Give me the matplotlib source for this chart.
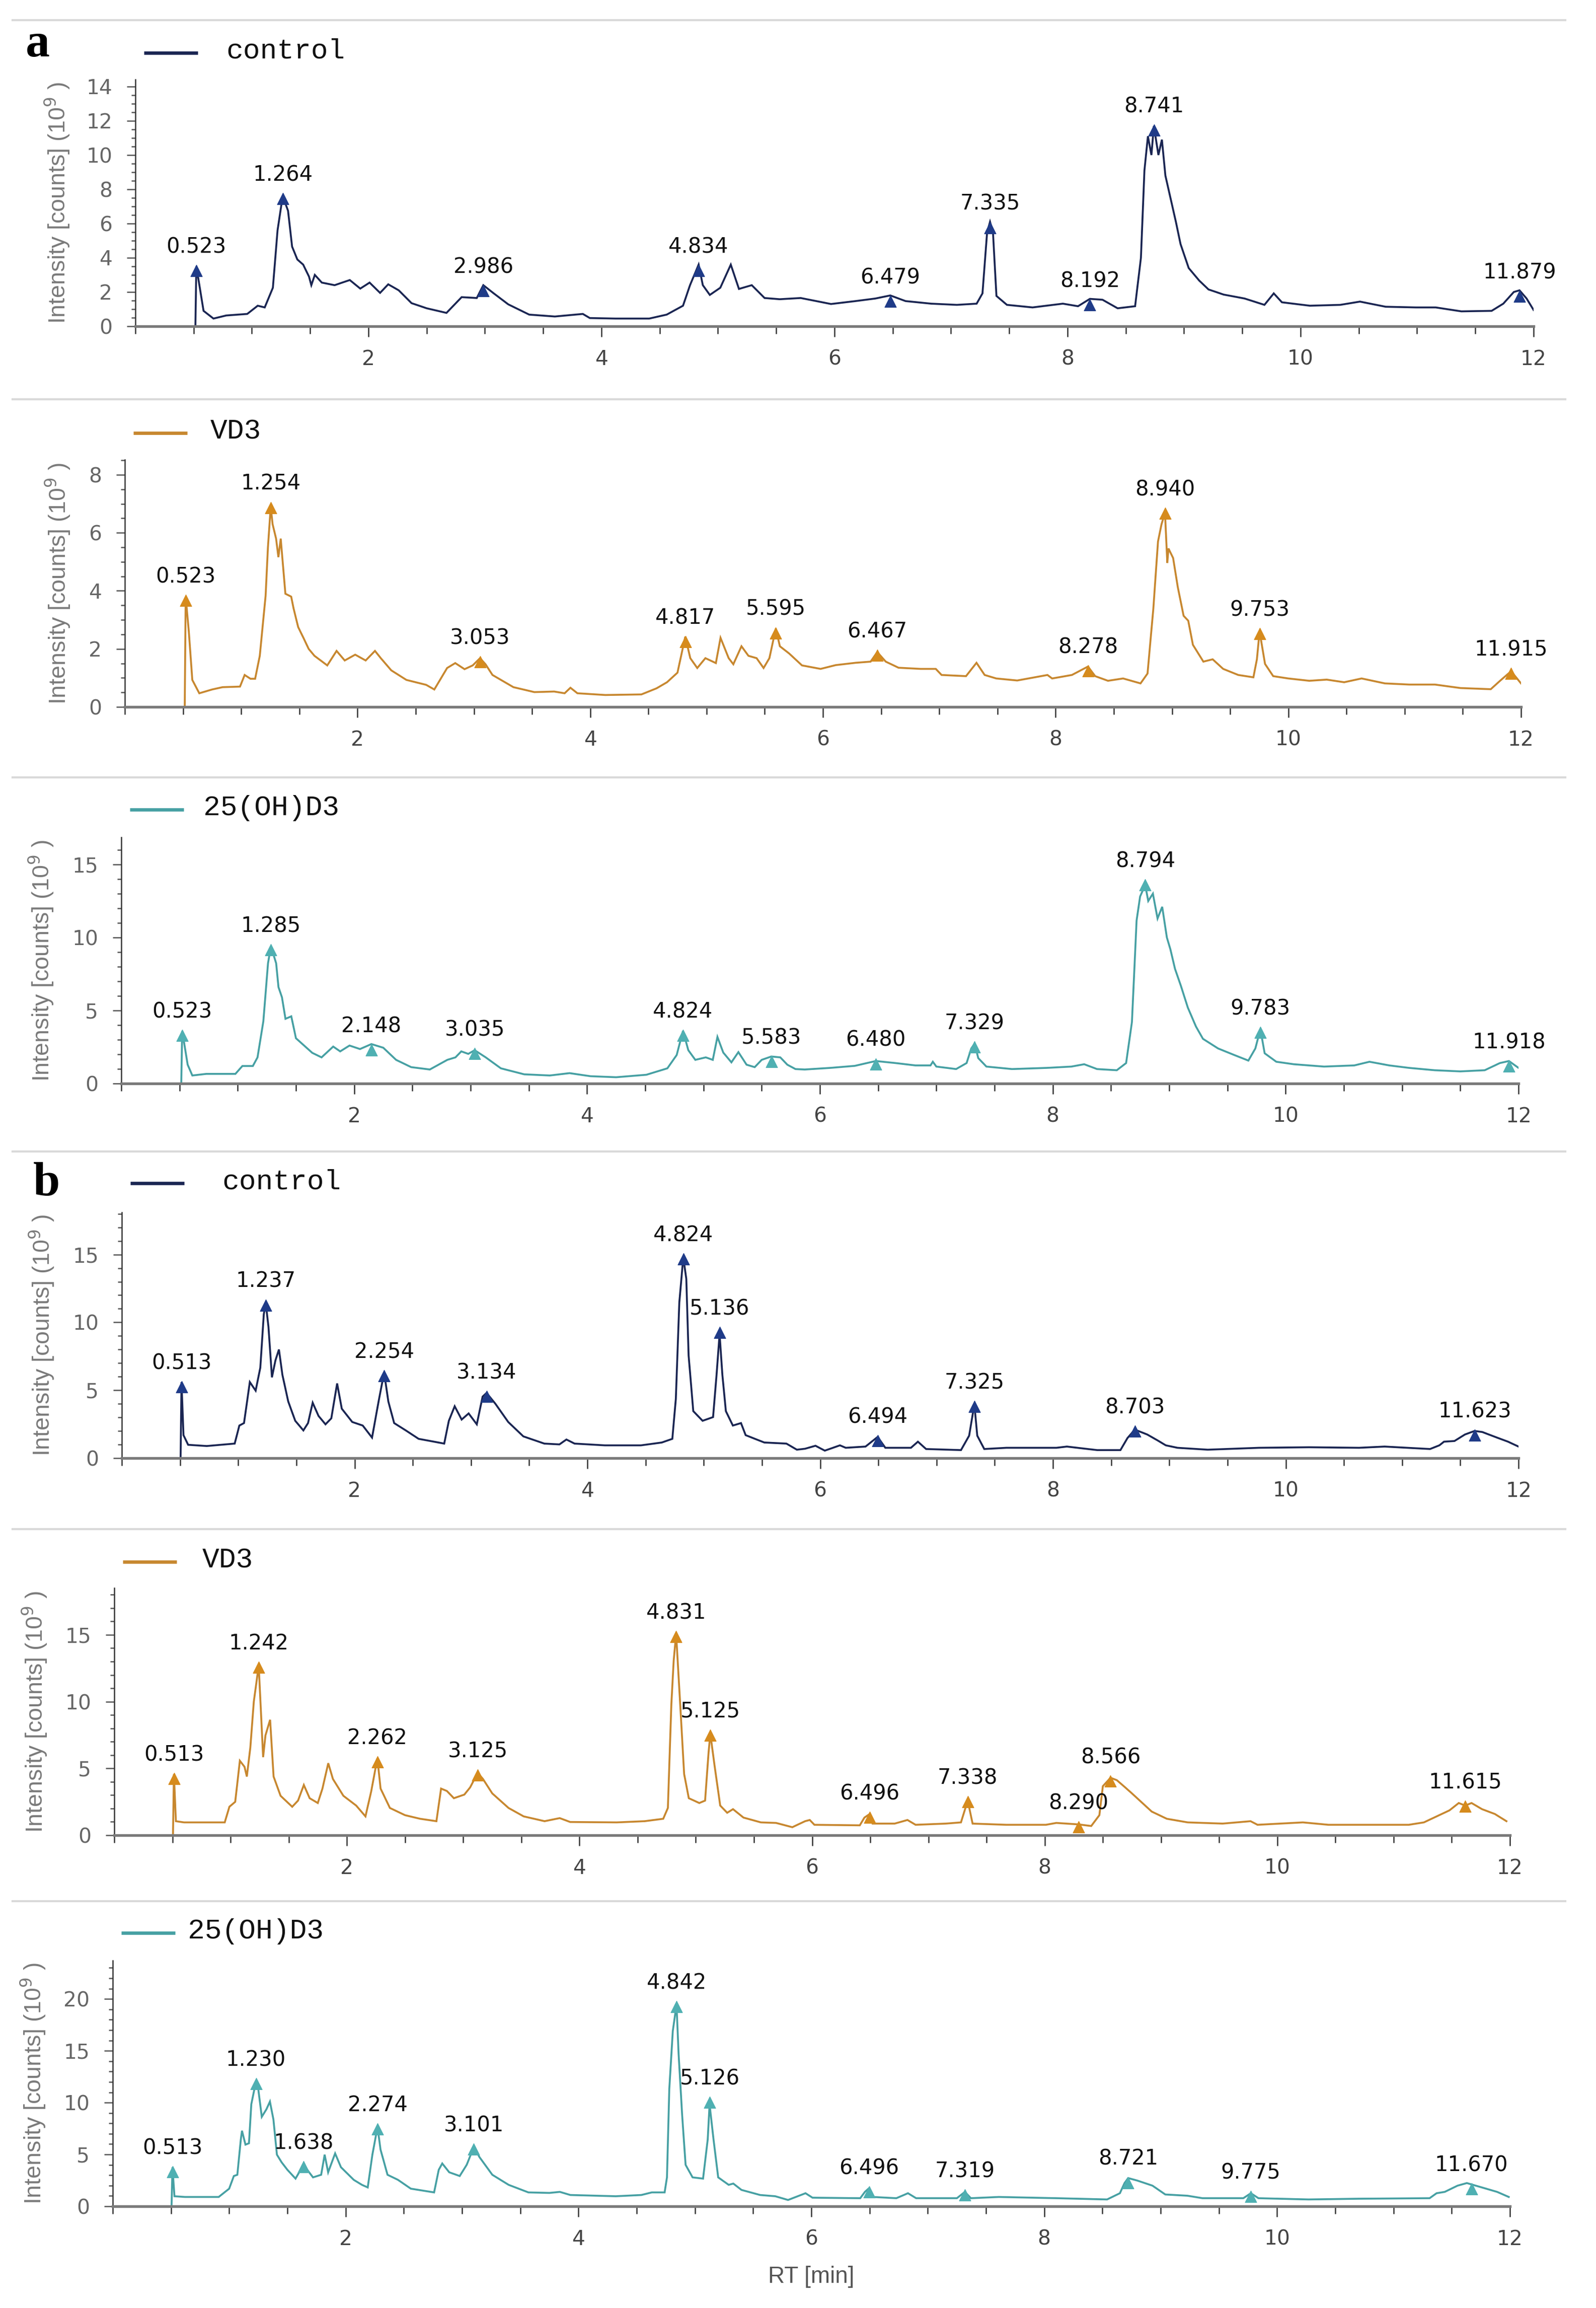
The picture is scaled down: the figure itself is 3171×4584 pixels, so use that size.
import matplotlib
matplotlib.use('Agg')
import matplotlib.pyplot as plt
from matplotlib.lines import Line2D
from matplotlib.path import Path
from matplotlib.ticker import FixedLocator, MultipleLocator

plt.rcParams['font.family'] = ['DejaVu Sans']

###################################
# Chromatogram traces (RT in min, intensity in 10^9 counts)

# a / control
a_ctrl_rt = [0.515, 0.523, 0.585, 0.67, 0.78, 0.96, 1.05, 1.11, 1.18, 1.22,
             1.264, 1.31, 1.345, 1.39, 1.44, 1.49, 1.51, 1.54, 1.60, 1.71,
             1.84, 1.93, 2.01, 2.10, 2.17, 2.26, 2.37, 2.50, 2.67, 2.80,
             2.93, 2.986, 3.07, 3.20, 3.38, 3.60, 3.84, 3.90, 4.12, 4.41,
             4.56, 4.70, 4.76, 4.834, 4.87, 4.93, 5.02, 5.11, 5.18, 5.29,
             5.40, 5.53, 5.71, 5.97, 6.18, 6.35, 6.479, 6.61, 6.83, 7.05,
             7.22, 7.27, 7.31, 7.335, 7.36, 7.39, 7.48, 7.70, 7.96, 8.09,
             8.192, 8.30, 8.43, 8.58, 8.63, 8.66, 8.69, 8.72, 8.741, 8.78,
             8.81, 8.84, 8.89, 8.93, 8.97, 9.04, 9.13, 9.21, 9.34, 9.52,
             9.69, 9.77, 9.84, 10.08, 10.34, 10.51, 10.73, 10.99, 11.16, 11.38,
             11.64, 11.74, 11.83, 11.879, 11.94, 12.0]
a_ctrl_int = [0.0, 3.5, 0.9, 0.45, 0.63, 0.72, 1.2, 1.1, 2.25, 5.6,
              7.6, 6.75, 4.65, 3.9, 3.6, 2.9, 2.4, 3.0, 2.55, 2.4,
              2.7, 2.2, 2.55, 1.95, 2.45, 2.1, 1.35, 1.05, 0.78, 1.7,
              1.65, 2.4, 1.95, 1.28, 0.68, 0.57, 0.72, 0.48, 0.45, 0.45,
              0.68, 1.2, 2.4, 3.6, 2.4, 1.83, 2.25, 3.6, 2.18, 2.4,
              1.65, 1.58, 1.65, 1.3, 1.47, 1.62, 1.8, 1.47, 1.32, 1.25,
              1.32, 1.92, 5.5, 6.1, 5.5, 1.77, 1.25, 1.1, 1.32, 1.17,
              1.6, 1.55, 1.05, 1.17, 4.0, 9.1, 11.1, 10.0, 11.7, 10.0,
              10.9, 8.8, 7.3, 6.1, 4.8, 3.4, 2.67, 2.15, 1.85, 1.62,
              1.25, 1.92, 1.4, 1.2, 1.25, 1.44, 1.14, 1.1, 1.1, 0.87,
              0.9, 1.32, 2.0, 2.1, 1.62, 0.95]
a_ctrl_peak_rt = [0.523, 1.264, 2.986, 4.834, 6.479, 7.335, 8.192, 8.741, 11.879]
a_ctrl_peak_int = [3.6, 7.8, 2.4, 3.6, 1.8, 6.1, 1.6, 11.8, 2.1]

# a / VD3
a_vd3_rt = [0.515, 0.523, 0.55, 0.58, 0.64, 0.75, 0.84, 0.99, 1.03, 1.08,
            1.12, 1.16, 1.21, 1.23, 1.254, 1.27, 1.30, 1.32, 1.34, 1.38,
            1.43, 1.45, 1.49, 1.54, 1.58, 1.63, 1.74, 1.82, 1.89, 1.98,
            2.07, 2.15, 2.20, 2.29, 2.42, 2.59, 2.66, 2.77, 2.84, 2.92,
            2.99, 3.053, 3.10, 3.16, 3.34, 3.52, 3.69, 3.78, 3.83, 3.89,
            4.13, 4.44, 4.57, 4.66, 4.75, 4.817, 4.86, 4.92, 4.99, 5.08,
            5.12, 5.19, 5.23, 5.30, 5.36, 5.43, 5.49, 5.54, 5.595, 5.63,
            5.71, 5.82, 5.98, 6.11, 6.28, 6.41, 6.467, 6.54, 6.65, 6.84,
            6.97, 7.02, 7.23, 7.32, 7.39, 7.49, 7.67, 7.93, 7.97, 8.14,
            8.278, 8.34, 8.45, 8.58, 8.73, 8.79, 8.84, 8.88, 8.91, 8.94,
            8.96, 8.97, 9.01, 9.05, 9.10, 9.14, 9.18, 9.27, 9.35, 9.44,
            9.57, 9.70, 9.73, 9.753, 9.80, 9.87, 10.0, 10.18, 10.33, 10.48,
            10.63, 10.83, 11.04, 11.26, 11.48, 11.74, 11.82, 11.915, 12.0]
a_vd3_int = [0.0, 3.8, 2.6, 0.93, 0.47, 0.6, 0.68, 0.7, 1.1, 0.97,
             0.97, 1.76, 3.83, 5.5, 6.9, 6.3, 5.8, 5.16, 5.8, 3.9,
             3.8, 3.4, 2.75, 2.34, 2.0, 1.76, 1.43, 1.93, 1.6, 1.8,
             1.6, 1.93, 1.68, 1.26, 0.93, 0.76, 0.6, 1.34, 1.51, 1.3,
             1.43, 1.68, 1.47, 1.1, 0.68, 0.51, 0.53, 0.47, 0.66, 0.47,
             0.41, 0.43, 0.64, 0.85, 1.18, 2.42, 1.68, 1.34, 1.68, 1.51,
             2.38, 1.68, 1.47, 2.09, 1.76, 1.68, 1.34, 1.68, 2.7, 2.09,
             1.84, 1.43, 1.31, 1.44, 1.52, 1.56, 1.89, 1.56, 1.35, 1.31,
             1.31, 1.1, 1.06, 1.52, 1.1, 0.98, 0.91, 1.1, 0.98, 1.1,
             1.39, 1.06, 0.9, 0.98, 0.81, 1.15, 3.39, 5.7, 6.29, 6.7,
             4.96, 5.46, 5.13, 4.13, 3.14, 2.97, 2.14, 1.56, 1.64, 1.31,
             1.1, 1.02, 1.64, 2.6, 1.48, 1.06, 0.98, 0.9, 0.94, 0.85,
             0.98, 0.81, 0.77, 0.77, 0.65, 0.61, 0.9, 1.23, 0.81]
a_vd3_peak_rt = [0.523, 1.254, 3.053, 4.817, 5.595, 6.467, 8.278, 8.940, 9.753, 11.915]
a_vd3_peak_int = [3.87, 7.07, 1.75, 2.45, 2.75, 1.97, 1.44, 6.87, 2.72, 1.35]

# a / 25(OH)D3
a_oh_rt = [0.515, 0.523, 0.57, 0.61, 0.73, 0.98, 1.04, 1.13, 1.17, 1.22,
           1.26, 1.285, 1.33, 1.35, 1.38, 1.41, 1.46, 1.50, 1.57, 1.64,
           1.72, 1.82, 1.88, 1.96, 2.05, 2.148, 2.25, 2.36, 2.49, 2.65,
           2.80, 2.87, 2.92, 2.98, 3.035, 3.13, 3.26, 3.46, 3.68, 3.85,
           4.03, 4.25, 4.51, 4.69, 4.77, 4.824, 4.87, 4.93, 5.02, 5.08,
           5.12, 5.17, 5.24, 5.30, 5.37, 5.44, 5.50, 5.583, 5.66, 5.72,
           5.79, 5.87, 6.09, 6.30, 6.48, 6.65, 6.82, 6.95, 6.97, 7.00,
           7.17, 7.26, 7.30, 7.329, 7.36, 7.43, 7.65, 7.95, 8.16, 8.27,
           8.38, 8.55, 8.63, 8.68, 8.72, 8.75, 8.794, 8.82, 8.86, 8.90,
           8.94, 8.98, 9.01, 9.05, 9.10, 9.16, 9.23, 9.29, 9.42, 9.55,
           9.68, 9.74, 9.783, 9.82, 9.92, 10.07, 10.33, 10.59, 10.72, 10.89,
           11.06, 11.28, 11.50, 11.71, 11.84, 11.918, 12.0]
a_oh_int = [0.0, 3.6, 1.29, 0.55, 0.66, 0.66, 1.2, 1.2, 1.79, 4.26,
            8.23, 9.4, 8.23, 6.6, 5.9, 4.43, 4.6, 3.1, 2.6, 2.1,
            1.79, 2.53, 2.2, 2.6, 2.36, 2.7, 2.45, 1.62, 1.12, 0.96,
            1.62, 1.79, 2.2, 2.03, 2.28, 1.79, 1.04, 0.63, 0.55, 0.71,
            0.5, 0.43, 0.6, 1.04, 1.95, 3.6, 2.28, 1.62, 1.79, 1.62,
            3.19, 2.12, 1.45, 2.15, 1.29, 1.12, 1.62, 1.85, 1.79, 1.29,
            0.99, 0.96, 1.07, 1.21, 1.54, 1.4, 1.24, 1.24, 1.49, 1.16,
            0.99, 1.4, 2.4, 2.73, 1.74, 1.16, 0.99, 1.07, 1.16, 1.32,
            0.99, 0.91, 1.4, 4.21, 11.16, 12.8, 13.6, 12.5, 13.0, 11.3,
            12.1, 10.0, 9.2, 7.85, 6.7, 5.2, 3.9, 3.06, 2.4, 1.98,
            1.57, 2.4, 3.72, 2.07, 1.49, 1.32, 1.16, 1.24, 1.49, 1.24,
            1.07, 0.91, 0.83, 0.91, 1.4, 1.54, 1.07]
a_oh_peak_rt = [0.523, 1.285, 2.148, 3.035, 4.824, 5.583, 6.480, 7.329, 8.794, 9.783, 11.918]
a_oh_peak_int = [3.7, 9.55, 2.7, 2.45, 3.69, 1.9, 1.74, 2.9, 14.0, 3.88, 1.57]

# b / control
b_ctrl_rt = [0.505, 0.513, 0.53, 0.57, 0.73, 0.97, 1.01, 1.05, 1.10, 1.15,
             1.19, 1.22, 1.237, 1.26, 1.29, 1.32, 1.35, 1.38, 1.43, 1.49,
             1.56, 1.60, 1.64, 1.69, 1.75, 1.80, 1.85, 1.89, 1.98, 2.07,
             2.15, 2.21, 2.254, 2.29, 2.34, 2.44, 2.55, 2.77, 2.81, 2.86,
             2.92, 2.98, 3.05, 3.10, 3.134, 3.21, 3.32, 3.45, 3.63, 3.76,
             3.82, 3.89, 4.15, 4.46, 4.64, 4.73, 4.76, 4.79, 4.824, 4.85,
             4.87, 4.91, 4.99, 5.08, 5.11, 5.136, 5.16, 5.19, 5.25, 5.32,
             5.36, 5.52, 5.71, 5.80, 5.87, 5.96, 6.04, 6.17, 6.22, 6.39,
             6.494, 6.56, 6.78, 6.84, 6.91, 7.21, 7.28, 7.325, 7.35, 7.41,
             7.60, 8.03, 8.12, 8.38, 8.58, 8.64, 8.703, 8.81, 8.90, 8.97,
             9.07, 9.33, 9.77, 10.20, 10.63, 10.85, 11.24, 11.32, 11.36, 11.45,
             11.54, 11.623, 11.69, 11.80, 11.91, 12.0]
b_ctrl_int = [0.0, 5.6, 1.69, 0.98, 0.89, 1.07, 2.4, 2.58, 5.6, 4.97,
              6.66, 10.6, 11.4, 9.68, 5.95, 7.2, 8.0, 6.13, 4.17, 2.75,
              2.04, 2.58, 4.08, 3.11, 2.49, 2.93, 5.5, 3.64, 2.66, 2.4,
              1.51, 4.35, 6.3, 4.17, 2.58, 2.04, 1.42, 1.07, 2.75, 3.82,
              2.84, 3.29, 2.49, 4.53, 4.8, 4.0, 2.66, 1.6, 1.07, 1.01,
              1.37, 1.07, 0.94, 0.94, 1.15, 1.42, 4.35, 11.46, 14.8, 13.2,
              7.55, 3.46, 2.75, 3.02, 6.13, 9.15, 6.13, 3.46, 2.4, 2.58,
              1.69, 1.15, 1.07, 0.62, 0.69, 0.91, 0.55, 0.94, 0.76, 0.85,
              1.56, 0.76, 0.76, 1.21, 0.67, 0.59, 1.65, 3.96, 1.65, 0.67,
              0.76, 0.76, 0.85, 0.59, 0.59, 1.47, 2.1, 1.74, 1.3, 0.94,
              0.76, 0.62, 0.76, 0.8, 0.76, 0.85, 0.67, 0.94, 1.21, 1.26,
              1.74, 2.0, 1.92, 1.56, 1.21, 0.85]
b_ctrl_peak_rt = [0.513, 1.237, 2.254, 3.134, 4.824, 5.136, 6.494, 7.325, 8.703, 11.623]
b_ctrl_peak_int = [5.68, 11.7, 6.48, 4.97, 15.1, 9.68, 1.69, 4.23, 2.4, 2.1]

# b / VD3
b_vd3_rt = [0.505, 0.513, 0.53, 0.60, 0.95, 0.99, 1.04, 1.08, 1.12, 1.14,
            1.17, 1.20, 1.242, 1.26, 1.28, 1.30, 1.34, 1.37, 1.43, 1.53,
            1.58, 1.63, 1.68, 1.75, 1.79, 1.84, 1.88, 1.97, 2.08, 2.16,
            2.21, 2.262, 2.29, 2.37, 2.50, 2.63, 2.77, 2.81, 2.86, 2.92,
            3.01, 3.06, 3.125, 3.17, 3.25, 3.39, 3.52, 3.70, 3.83, 3.92,
            4.32, 4.56, 4.72, 4.76, 4.79, 4.81, 4.831, 4.86, 4.90, 4.94,
            5.03, 5.08, 5.11, 5.125, 5.16, 5.21, 5.27, 5.32, 5.41, 5.56,
            5.69, 5.83, 5.94, 5.98, 6.02, 6.41, 6.45, 6.496, 6.52, 6.71,
            6.82, 6.89, 7.15, 7.28, 7.338, 7.38, 7.67, 8.01, 8.10, 8.290,
            8.40, 8.47, 8.50, 8.566, 8.62, 8.68, 8.75, 8.84, 8.92, 9.05,
            9.23, 9.53, 9.77, 9.83, 10.22, 10.44, 10.70, 11.13, 11.26, 11.37,
            11.48, 11.56, 11.615, 11.67, 11.76, 11.87, 11.97]
b_vd3_int = [0.0, 4.57, 1.05, 0.96, 0.96, 2.13, 2.5, 5.57, 5.12, 4.39,
             6.56, 10.0, 12.7, 9.46, 5.84, 7.47, 8.64, 4.39, 2.95, 2.13,
             2.59, 3.76, 2.77, 2.41, 3.49, 5.39, 4.21, 2.95, 2.22, 1.41,
             3.31, 5.75, 3.49, 2.04, 1.5, 1.23, 1.05, 3.49, 3.31, 2.77,
             3.04, 3.58, 4.67, 4.21, 3.13, 2.04, 1.41, 1.05, 1.28, 0.99,
             0.96, 1.05, 1.23, 2.04, 9.82, 13.07, 15.06, 10.7, 4.57, 2.77,
             2.41, 2.59, 6.2, 7.6, 5.3, 2.22, 1.68, 1.95, 1.32, 0.96,
             0.92, 0.6, 1.05, 1.14, 0.78, 0.74, 1.32, 1.59, 0.87, 0.87,
             1.14, 0.78, 0.87, 0.96, 2.59, 0.87, 0.78, 0.78, 0.92, 0.81,
             0.69, 1.5, 3.67, 4.3, 4.12, 3.67, 3.13, 2.41, 1.77, 1.23,
             0.96, 0.87, 1.05, 0.78, 0.96, 0.78, 0.78, 0.78, 0.96, 1.41,
             1.86, 2.41, 2.22, 2.41, 1.95, 1.59, 1.05]
b_vd3_peak_rt = [0.513, 1.242, 2.262, 3.125, 4.831, 5.125, 6.496, 7.338, 8.290, 8.566, 11.615]
b_vd3_peak_int = [4.67, 13.0, 5.93, 4.94, 15.3, 7.92, 1.77, 2.95, 1.05, 4.48, 2.59]

# b / 25(OH)D3
b_oh_rt = [0.505, 0.513, 0.53, 0.62, 0.91, 1.00, 1.04, 1.07, 1.10, 1.11,
           1.14, 1.17, 1.19, 1.230, 1.25, 1.28, 1.32, 1.35, 1.38, 1.41,
           1.45, 1.50, 1.57, 1.638, 1.72, 1.79, 1.82, 1.85, 1.91, 1.96,
           2.07, 2.14, 2.19, 2.23, 2.274, 2.30, 2.36, 2.45, 2.56, 2.76,
           2.80, 2.83, 2.89, 2.98, 3.04, 3.101, 3.15, 3.26, 3.40, 3.57,
           3.75, 3.84, 3.93, 4.32, 4.54, 4.63, 4.74, 4.76, 4.78, 4.81,
           4.842, 4.86, 4.89, 4.92, 4.98, 5.07, 5.11, 5.126, 5.16, 5.20,
           5.29, 5.33, 5.40, 5.56, 5.69, 5.80, 5.95, 6.01, 6.42, 6.46,
           6.496, 6.53, 6.73, 6.83, 6.90, 7.25, 7.319, 7.37, 7.61, 8.11,
           8.54, 8.65, 8.69, 8.721, 8.80, 8.93, 9.04, 9.23, 9.36, 9.71,
           9.775, 9.84, 10.27, 10.70, 11.31, 11.37, 11.44, 11.55, 11.63, 11.670,
           11.78, 11.89, 11.99]
b_oh_int = [0.0, 3.77, 0.97, 0.9, 0.9, 1.7, 2.92, 3.04, 6.44, 7.29,
            5.95, 6.08, 9.84, 12.03, 11.3, 8.63, 9.36, 10.1, 8.38, 4.98,
            4.25, 3.52, 2.67, 4.0, 2.79, 3.04, 4.98, 3.28, 5.1, 3.77,
            2.55, 2.07, 1.82, 4.98, 7.65, 5.47, 3.04, 2.55, 1.7, 1.34,
            3.52, 4.13, 3.28, 2.92, 4.0, 5.71, 4.74, 3.04, 2.07, 1.34,
            1.29, 1.39, 1.09, 0.97, 1.09, 1.34, 1.34, 2.79, 11.3, 16.9,
            19.44, 14.7, 8.87, 4.0, 2.79, 2.67, 6.44, 9.84, 6.44, 2.79,
            2.07, 2.19, 1.58, 1.09, 0.97, 0.61, 1.26, 0.83, 0.78, 1.39,
            1.75, 0.9, 0.78, 1.26, 0.78, 0.78, 1.39, 0.78, 0.9, 0.78,
            0.66, 1.26, 2.24, 2.72, 2.48, 1.99, 1.14, 1.02, 0.78, 0.78,
            1.26, 0.78, 0.66, 0.73, 0.78, 1.26, 1.39, 1.99, 2.24, 2.11,
            1.75, 1.39, 0.9]
b_oh_peak_rt = [0.513, 1.230, 1.638, 2.274, 3.101, 4.842, 5.126, 6.496, 7.319, 8.721, 9.775, 11.670]
b_oh_peak_int = [3.9, 12.4, 4.37, 8.02, 6.08, 19.8, 10.57, 1.92, 1.63, 2.84, 1.51, 2.24]

group_names = ['control', 'VD3', '25(OH)D3', 'control', 'VD3', '25(OH)D3']
y_max = [14.41, 8.52, 16.86, 18.1, 18.5, 23.7]
y_major = [2, 2, 5, 5, 5, 5]
y_minor = [0.5, 0.5, 1, 1, 1, 1]

###################################
# Layout (pixel positions of the original figure)

W, H = 3171, 4584
DPI = 300
fig = plt.figure(figsize=(W / DPI, H / DPI), dpi=DPI)

line_col = {'control': '#1a2552', 'VD3': '#c7872f', '25(OH)D3': '#46a0a3'}
mark_col = {'control': '#1f3b88', 'VD3': '#d68b1d', '25(OH)D3': '#4fb0b2'}

ax_left = [269, 248, 241, 242, 227, 224]
ax_width = [2778, 2774, 2776, 2775, 2773, 2776]
ax_zero = [648, 1404, 2152, 2896, 3645, 4382]
ax_height = [490, 491, 489, 488, 491, 488]
leg_up = [53, 53, 55, 58, 52, 55]
leg_gap = [56, 46, 39, 75, 51, 25]
ylab_off = [127, 105, 131, 131, 130, 130]

arrow_head = Path([(-0.5, -1.0), (0.0, 0.0), (0.5, -1.0), (-0.5, -1.0)],
                  [Path.MOVETO, Path.LINETO, Path.LINETO, Path.CLOSEPOLY])

traces = [(a_ctrl_rt, a_ctrl_int, a_ctrl_peak_rt, a_ctrl_peak_int),
          (a_vd3_rt, a_vd3_int, a_vd3_peak_rt, a_vd3_peak_int),
          (a_oh_rt, a_oh_int, a_oh_peak_rt, a_oh_peak_int),
          (b_ctrl_rt, b_ctrl_int, b_ctrl_peak_rt, b_ctrl_peak_int),
          (b_vd3_rt, b_vd3_int, b_vd3_peak_rt, b_vd3_peak_int),
          (b_oh_rt, b_oh_int, b_oh_peak_rt, b_oh_peak_int)]

for i, (rt, inten, prt, pint) in enumerate(traces):
    name = group_names[i]
    wpx, hpx = ax_width[i], ax_height[i]
    ax = fig.add_axes([ax_left[i] / W, (H - ax_zero[i]) / H, wpx / W, hpx / H])

    ax.plot(rt, inten, color=line_col[name], lw=0.9, solid_joinstyle='miter')
    ax.plot(prt, pint, linestyle='none', marker=arrow_head, markersize=11,
            color=mark_col[name], markeredgewidth=0.3, clip_on=False)
    for x, y in zip(prt, pint):
        ax.annotate('%.3f' % x, (x, y), xytext=(0, 3.5), textcoords='offset points',
                    ha='center', va='bottom', fontsize=10, color='#111111')

    ax.set_xlim(0, 12)
    ax.set_ylim(0, y_max[i])
    ax.xaxis.set_major_locator(FixedLocator([2, 4, 6, 8, 10, 12]))
    ax.xaxis.set_minor_locator(MultipleLocator(0.5))
    ax.yaxis.set_major_locator(MultipleLocator(y_major[i]))
    ax.yaxis.set_minor_locator(MultipleLocator(y_minor[i]))

    for s in ['top', 'right']:
        ax.spines[s].set_visible(False)
    ax.spines['left'].set_color('#333333')
    ax.spines['left'].set_linewidth(0.6)
    ax.spines['bottom'].set_color('#7a7a7a')
    ax.spines['bottom'].set_linewidth(1.3)
    ax.patch.set_alpha(0)

    ax.tick_params(axis='x', which='major', direction='out', length=5, width=0.6,
                   color='#333333', labelsize=9.8, labelcolor='#444444', pad=6)
    ax.tick_params(axis='x', which='minor', direction='out', length=3.5, width=0.6,
                   color='#333333')
    ax.tick_params(axis='y', which='major', direction='out', length=4, width=0.6,
                   color='#555555', labelsize=9.8, labelcolor='#666666', pad=7)
    ax.tick_params(axis='y', which='minor', direction='out', length=2, width=0.6,
                   color='#555555')

    ax.set_ylabel('Intensity [counts] (10$^{9}$ )', family='Liberation Sans',
                  fontsize=11.2, color='#7a7a7a')
    ax.yaxis.set_label_coords(-ylab_off[i] / wpx, 0.5)

    # legend swatch above the axes
    ly = 1 + leg_up[i] / hpx
    ax.plot([17 / wpx, 124 / wpx], [ly, ly], transform=ax.transAxes,
            color=line_col[name], lw=1.6, clip_on=False, solid_capstyle='butt')
    ax.text((124 + leg_gap[i]) / wpx, 1 + (leg_up[i] - 11) / hpx, name,
            transform=ax.transAxes, family='Liberation Mono', fontsize=13.5,
            color='#111111', ha='left', va='baseline')

    if i == 5:
        ax.set_xlabel('RT [min]', family='Liberation Sans', fontsize=11,
                      color='#555555')
        ax.xaxis.set_label_coords(0.5, -118 / hpx)

# separators between panels
for ypx in [40, 793, 1544, 2287, 3037, 3776]:
    fig.add_artist(Line2D([25 / W, 3110 / W], [1 - ypx / H, 1 - ypx / H],
                          transform=fig.transFigure, color='#d9d9d9', lw=1.0))

fig.text(51 / W, 1 - 112 / H, 'a', family='Liberation Serif', fontweight='bold',
         fontsize=23, va='baseline', ha='left')
fig.text(66 / W, 1 - 2374 / H, 'b', family='Liberation Serif', fontweight='bold',
         fontsize=23, va='baseline', ha='left')

fig.savefig('out.png', dpi=DPI, facecolor='white')
